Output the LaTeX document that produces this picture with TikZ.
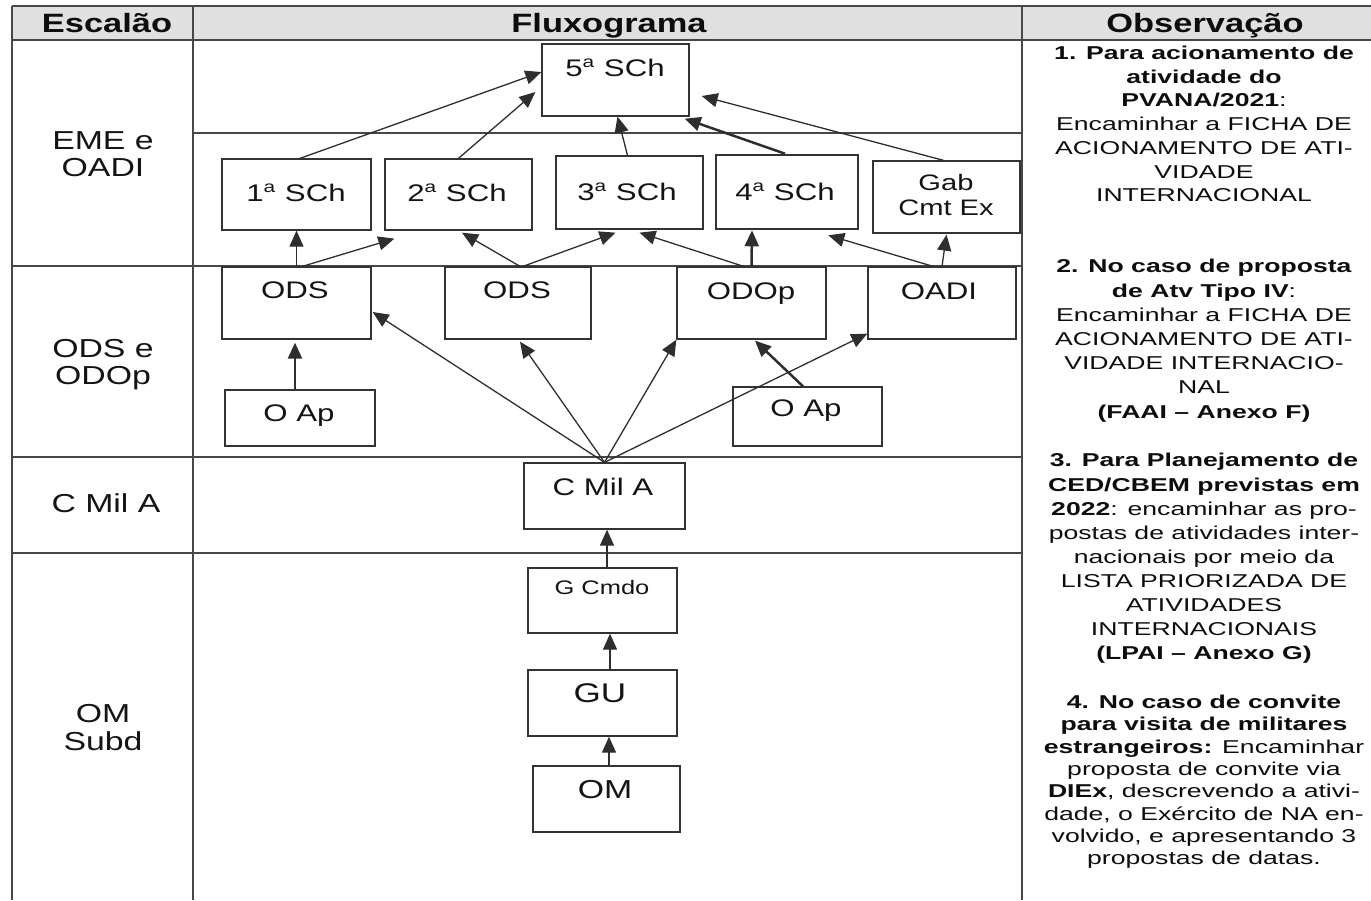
\documentclass[tikz,border=0pt]{standalone}
\usepackage{fontspec}
\setmainfont[FakeStretch=1.3]{Liberation Sans}
\newfontfamily\obsfont[FakeStretch=1.43]{Liberation Sans}
\usetikzlibrary{arrows.meta,fit}
\begin{document}
\begin{tikzpicture}[x=0.5pt,y=-0.5pt,
  tline/.style={draw=black!72,line width=0.65pt},
  box/.style={draw=black!80,line width=0.65pt,rectangle,inner sep=0pt},
  thickbox/.style={box,line width=1.3pt},
  t/.style={inner sep=0pt,anchor=base,text=black!92,font=\fontsize{12}{14}\selectfont},
  hdr/.style={inner sep=0pt,anchor=base,text=black!95,font=\bfseries\fontsize{13.25}{15}\selectfont},
  esc/.style={inner sep=0pt,anchor=base,text=black!92,font=\fontsize{13}{15}\selectfont},
  obs/.style={inner sep=0pt,anchor=base,align=center,text=black!95},
  conn/.style={draw=black!82,line width=0.65pt,-{Triangle[length=8pt,width=7pt]}},
  heavy/.style={conn,line width=1.25pt}
]
\useasboundingbox (0,0) rectangle (1371,900);

% ---- table ----
\fill[gray!24] (12,6) rectangle (1371,40);
\draw[tline] (12,6) -- (1371,6);
\draw[tline] (12,40) -- (1371,40);
\draw[tline,line width=1pt] (12,6) -- (12,900);
\draw[tline] (193,6) -- (193,900);
\draw[tline] (1022,6) -- (1022,900);
\draw[tline] (193,133) -- (1022,133);
\draw[tline] (12,266) -- (1022,266);
\draw[tline] (12,457) -- (1022,457);
\draw[tline] (12,553) -- (1022,553);

% ---- headers ----
\node[hdr] (h1) at (107,32) {Escalão};
\node[hdr] (h2) at (609,32) {Fluxograma};
\node[hdr] (h3) at (1205,32) {Observação};

% ---- left labels ----
\node[esc] (l1a) at (103,149) {EME e};
\node[esc] (l1b) at (103,176) {OADI};
\node[esc] (l2a) at (103,357) {ODS e};
\node[esc] (l2b) at (103,384) {ODOp};
\node[esc] (l3) at (106,512) {C Mil A};
\node[esc] (l4a) at (103,722) {OM};
\node[esc] (l4b) at (103,750) {Subd};

% ---- boxes ----
\node[box,fit={(542,44) (689,116)}] (sch5) {};
\node[box,fit={(222,159) (371,230)}] (sch1) {};
\node[box,fit={(385,159) (532,230)}] (sch2) {};
\node[box,fit={(556,156) (703,229)}] (sch3) {};
\node[thickbox,fit={(716,155) (858,229)}] (sch4) {};
\node[box,fit={(873,161) (1020,233)}] (gab) {};
\node[box,fit={(222,267) (371,339)}] (ods1) {};
\node[box,fit={(445,267) (591,339)}] (ods2) {};
\node[box,fit={(677,267) (826,339)}] (odop) {};
\node[box,fit={(868,267) (1016,339)}] (oadi) {};
\node[box,fit={(225,390) (375,446)}] (oap1) {};
\node[box,fit={(733,387) (882,446)}] (oap2) {};
\node[box,fit={(524,463) (685,529)}] (cmil) {};
\node[box,fit={(528,568) (677,633)}] (gcmdo) {};
\node[box,fit={(528,670) (677,736)}] (gu) {};
\node[box,fit={(533,766) (680,832)}] (om) {};

% ---- box texts ----
\node[t] (sch5t) at (615,76.6) {5\textsuperscript{a} SCh};
\node[t] (sch1t) at (296,201.6) {1\textsuperscript{a} SCh};
\node[t] (sch2t) at (457,201.6) {2\textsuperscript{a} SCh};
\node[t] (sch3t) at (627,200.6) {3\textsuperscript{a} SCh};
\node[t] (sch4t) at (785,200.6) {4\textsuperscript{a} SCh};
\node[t,align=center,font=\fontsize{11.2}{12.5}\selectfont] (gabt) at (946,215.5) {Gab\\Cmt Ex};
\node[t] (ods1t) at (295,298.6) {ODS};
\node[t] (ods2t) at (517,298.6) {ODS};
\node[t] (odopt) at (751,299.6) {ODOp};
\node[t] (oadit) at (939,299.6) {OADI};
\node[t] (oap1t) at (299,421) {O Ap};
\node[t] (oap2t) at (806,416.6) {O Ap};
\node[t] (cmilt) at (603,495.6) {C Mil A};
\node[t,font=\fontsize{9.8}{11}\selectfont] (gcmdot) at (602,594) {G Cmdo};
\node[t,font=\fontsize{13.5}{15}\selectfont] (gut) at (600,702.7) {GU};
\node[t,font=\fontsize{13}{15}\selectfont] (omt) at (605,798.3) {OM};

% ---- connectors to 5a SCh ----
\draw[conn] ([xshift=1.75pt]sch1.north) -- ([yshift=4pt]sch5.west);
\draw[conn] (sch2.north) -- ([xshift=-3pt,yshift=-6pt]sch5.west);
\draw[conn] ([xshift=-1pt]sch3.north) -- ([xshift=1pt]sch5.south);
\draw[heavy] ([xshift=-1pt]sch4.north) -- ([xshift=-2.5pt,yshift=-1pt]sch5.south east);
\draw[conn] ([xshift=-1.5pt]gab.north) -- ([xshift=6pt,yshift=-8pt]sch5.east);

% ---- row 2 -> row 1 ----
\draw[conn] (ods1.north) -- (sch1.south);
\draw[conn] ([xshift=3pt]ods1.north) -- ([xshift=5pt,yshift=-4pt]sch2.south west);
\draw[conn] ([xshift=1pt]ods2.north) -- ([xshift=1.75pt,yshift=-1pt]sch2.south);
\draw[conn] ([xshift=2.5pt]ods2.north) -- ([xshift=-7pt,yshift=-1.5pt]sch3.south);
\draw[conn] ([xshift=-4pt]odop.north) -- ([xshift=5pt,yshift=-1.5pt]sch3.south);
\draw[heavy] (odop.north) -- ([xshift=-17.5pt]sch4.south);
\draw[conn] ([xshift=-4.5pt]oadi.north) -- ([xshift=-15.5pt,yshift=-2.5pt]sch4.south east);
\draw[conn] (oadi.north) -- ([yshift=-0.5pt]gab.south);

% ---- C Mil A -> row 2 ----
\draw[conn] (cmil.north) -- ([xshift=0.5pt,yshift=-4.5pt]ods1.east);
\draw[conn] (cmil.north) -- ([xshift=1pt,yshift=-1pt]ods2.south);
\draw[conn] (cmil.north) -- (odop.south west);
\draw[conn] (cmil.north) -- ([yshift=3pt]oadi.south west);
\draw[heavy] ([xshift=-2.5pt]oap1.north) -- ([xshift=-0.75pt,yshift=-1.5pt]ods1.south);
\draw[heavy] ([xshift=-2.25pt]oap2.north) -- ([xshift=1.75pt,yshift=-0.5pt]odop.south);

% ---- lower chain ----
\draw[conn] ([xshift=2.25pt]gcmdo.north) -- ([xshift=1.25pt]cmil.south);
\draw[conn] ([xshift=3.75pt]gu.north) -- ([xshift=3.75pt]gcmdo.south);
\draw[conn] ([xshift=1.25pt]om.north) -- ([xshift=3.25pt]gu.south);

% ---- observations (anchor = baseline of last line) ----
\node[obs,font=\obsfont\fontsize{9.3}{11.85}\selectfont] (p1) at (1204,201.7) {%
\textbf{1. Para acionamento de}\\
\textbf{atividade do}\\
\textbf{PVANA/2021}:\\
Encaminhar a FICHA DE\\
ACIONAMENTO DE ATI-\\
VIDADE\\
INTERNACIONAL};
\node[obs,font=\obsfont\fontsize{9.3}{12.1}\selectfont] (p2) at (1204,418) {%
\textbf{2. No caso de proposta}\\
\textbf{de Atv Tipo IV}:\\
Encaminhar a FICHA DE\\
ACIONAMENTO DE ATI-\\
VIDADE INTERNACIO-\\
NAL\\
\textbf{(FAAI – Anexo F)}};
\node[obs,font=\obsfont\fontsize{9.3}{12.05}\selectfont] (p3) at (1204,659.7) {%
\textbf{3. Para Planejamento de}\\
\textbf{CED/CBEM previstas em}\\
\textbf{2022}: encaminhar as pro-\\
postas de atividades inter-\\
nacionais por meio da\\
LISTA PRIORIZADA DE\\
ATIVIDADES\\
INTERNACIONAIS\\
\textbf{(LPAI – Anexo G)}};
\node[obs,font=\obsfont\fontsize{9.3}{11.15}\selectfont] (p4) at (1204,864.7) {%
\textbf{4. No caso de convite}\\
\textbf{para visita de militares}\\
\textbf{estrangeiros:} Encaminhar\\
proposta de convite via\\
\textbf{DIEx}, descrevendo a ativi-\\
dade, o Exército de NA en-\\
volvido, e apresentando 3\\
propostas de datas.};
\end{tikzpicture}
\end{document}
